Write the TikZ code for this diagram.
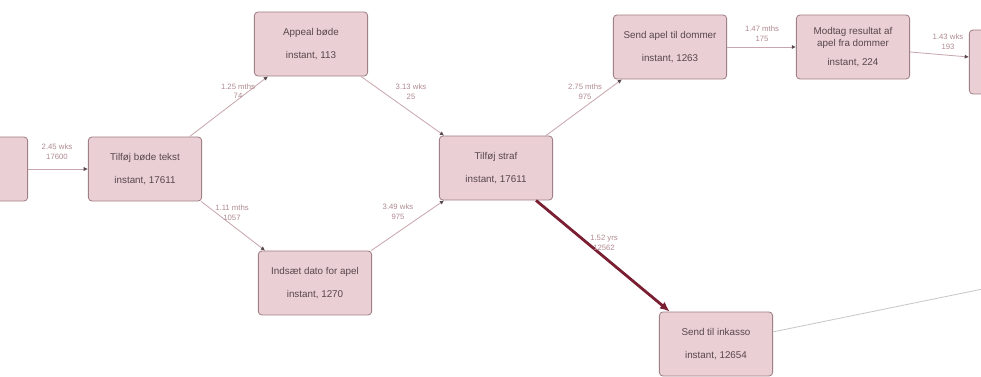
\documentclass[tikz,border=0pt]{standalone}
\usepackage{fontspec}
\setmainfont{Liberation Sans}
\usetikzlibrary{arrows.meta}

\definecolor{actfill}{RGB}{234,207,213}
\definecolor{actline}{RGB}{160,128,135}
\definecolor{acttext}{RGB}{88,72,75}
\definecolor{edgeline}{RGB}{200,168,174}
\definecolor{edgetext}{RGB}{175,138,145}
\definecolor{hotedge}{RGB}{122,30,50}
\definecolor{coldedge}{RGB}{200,200,200}

\begin{document}
\begin{tikzpicture}[x=0.025cm,y=-0.025cm,
    act/.style={draw=actline,fill=actfill,rounded corners=2.5pt,line width=0.6pt,
      minimum width=2.83cm,minimum height=1.6cm,align=center,text=acttext,
      font=\fontsize{7}{8.4}\selectfont},
    flow/.style={draw=edgeline,line width=0.6pt,-{Latex[length=3pt,width=3pt,color=acttext]}},
    hot/.style={draw=hotedge,line width=2pt,-{Latex[length=7pt,width=6pt]}},
    lbl/.style={text=edgetext,align=center,inner sep=0pt,font=\fontsize{5.5}{6.8}\selectfont}]

\clip (0,0) rectangle (981,376);

% activities
\node[act] (start)    at (-29,169)  {};
\node[act] (bode)     at (145,169)  {Tilføj bøde tekst\\[8.5pt]instant, 17611};
\node[act] (appeal)   at (311,44)   {Appeal bøde\\[8.5pt]instant, 113};
\node[act] (indsaet)  at (315,283)  {Indsæt dato for apel\\[8.5pt]instant, 1270};
\node[act] (straf)    at (496,168)  {Tilføj straf\\[8.5pt]instant, 17611};
\node[act] (apel)     at (670,47)   {Send apel til dommer\\[8.5pt]instant, 1263};
\node[act] (modtag)   at (853,47)   {Modtag resultat af\\apel fra dommer\\[5.5pt]instant, 224};
\node[act] (next)     at (1026,62)  {};
\node[act] (inkasso)  at (716,344)  {Send til inkasso\\[8.5pt]instant, 12654};
\coordinate (offright) at (1100,265);

% flows
\draw[flow] (start.east)   -- (bode.west);
\draw[flow] (bode.36)      -- (appeal.217);
\draw[flow] (appeal.327)   -- (straf.148);
\draw[flow] (bode.330)     -- (indsaet.147);
\draw[flow] (indsaet.30)   -- (straf.212);
\draw[flow] (straf.33)     -- (apel.214);
\draw[flow] (apel.east)    -- (modtag.west);
\draw[flow] (modtag.-5)    -- (next.175);
\draw[draw=coldedge,line width=0.6pt] (inkasso.12) -- (offright);
\draw[hot]  (straf.321)    -- (inkasso.145);

% durations and counts
\node[lbl] (lbl_start)   at (57,152)  {2.45 wks\\17600};
\node[lbl] (lbl_appeal)  at (238,91)  {1.25 mths\\74};
\node[lbl] (lbl_straf1)  at (411,92)  {3.13 wks\\25};
\node[lbl] (lbl_indsaet) at (232,213) {1.11 mths\\1057};
\node[lbl] (lbl_straf2)  at (398,212) {3.49 wks\\975};
\node[lbl] (lbl_apel)    at (585,92)  {2.75 mths\\975};
\node[lbl] (lbl_modtag)  at (762,34)  {1.47 mths\\175};
\node[lbl] (lbl_next)    at (948,42)  {1.43 wks\\193};
\node[lbl] (lbl_inkasso) at (604,243) {1.52 yrs\\12562};

\end{tikzpicture}
\end{document}
